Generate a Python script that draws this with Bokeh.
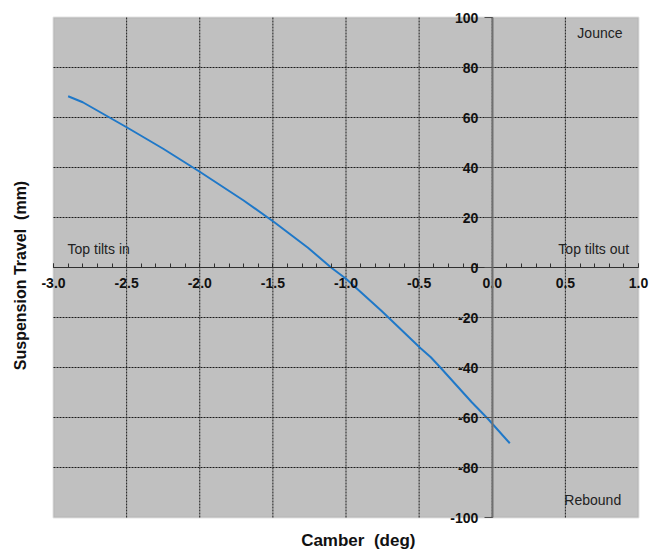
from bokeh.plotting import figure
from bokeh.models import Range1d, FixedTicker, LinearAxis, Label, BoxAnnotation
from bokeh.embed import file_html
from bokeh.resources import INLINE

# Data
camber = [-2.90, -2.80, -2.62, -2.50, -2.25, -2.00, -1.70, -1.49, -1.26, -1.10,
          -1.00, -0.76, -0.49, -0.42, -0.35, -0.14, -0.10, -0.03, 0.005, 0.12]
travel = [68.5, 66.1, 60.1, 56.1, 47.5, 38.3, 26.8, 18.1, 7.9, -0.1,
          -4.5, -17.2, -32.3, -35.9, -40.3, -53.9, -56.3, -60.5, -62.8, -70.3]

x_ticks = [-3.0, -2.5, -2.0, -1.5, -1.0, -0.5, 0.0, 0.5, 1.0]
x_tick_labels = ["-3.0", "-2.5", "-2.0", "-1.5", "-1.0", "-0.5", "0.0", "0.5", "1.0"]
y_ticks = [-100, -80, -60, -40, -20, 0, 20, 40, 60, 80, 100]
y_tick_labels = ["-100", "-80", "-60", "-40", "-20", "0", "20", "40", "60", "80", "100"]
x_minor = [round(-3.0 + 0.1 * i, 1) for i in range(41)]

FONT = "Liberation Sans"

X0, X1 = x_ticks[0], x_ticks[-1]
Y0, Y1 = y_ticks[0], y_ticks[-1]

# layout (pixels): plot box at left 53, right 638, top 17, bottom 517
W, H = 650, 550
L, R, T, B = 53, 638, 17, 517
sx = (R - L) / (X1 - X0)
sy = (B - T) / (Y1 - Y0)
x_range = Range1d(X0 - L / sx, X1 + (W - R) / sx)
y_range = Range1d(Y0 - (H - B) / sy, Y1 + T / sy)

p = figure(width=W, height=H, output_backend="svg", toolbar_location=None,
           x_range=x_range, y_range=y_range,
           x_axis_location=None, y_axis_location=None,
           min_border_left=0, min_border_right=0, min_border_top=0, min_border_bottom=0)
p.background_fill_color = "white"
p.border_fill_color = "white"
p.outline_line_color = None
p.grid.visible = False

# plot area background
p.add_layout(BoxAnnotation(left=X0, right=X1, bottom=Y0, top=Y1, fill_color="#C0C0C0",
                           fill_alpha=1, line_color="#A0A0A0", line_width=2,
                           level="underlay"))

# grid lines
gx = [t for t in x_ticks if t not in (X0, X1)]
gy = [t for t in y_ticks if t not in (Y0, Y1)]
p.segment(x0=gx, y0=[Y0] * len(gx), x1=gx, y1=[Y1] * len(gx),
          line_color="#1a1a1a", line_dash="2 1", line_width=1)
p.segment(x0=[X0] * len(gy), y0=gy, x1=[X1] * len(gy), y1=gy,
          line_color="#1a1a1a", line_dash="2 1", line_width=1)

# data line
p.line(camber, travel, line_color="#1F78C8", line_width=2)

# axes crossing at origin
xax = LinearAxis(fixed_location=0, bounds=(X0, X1),
                 ticker=FixedTicker(ticks=x_ticks, minor_ticks=x_minor),
                 major_label_overrides={t: s for t, s in zip(x_ticks, x_tick_labels)},
                 axis_line_color="#303030", axis_line_width=1.2,
                 major_tick_line_color="#303030", major_tick_in=4, major_tick_out=0,
                 minor_tick_line_color="#303030", minor_tick_in=4, minor_tick_out=0,
                 major_label_standoff=10,
                 major_label_text_font=FONT, major_label_text_font_style="bold",
                 major_label_text_font_size="14px", major_label_text_color="#111111")
yax = LinearAxis(fixed_location=0, bounds=(Y0, Y1),
                 ticker=FixedTicker(ticks=y_ticks, minor_ticks=[]),
                 major_label_overrides={t: s for t, s in zip(y_ticks, y_tick_labels)},
                 axis_line_color="#707070", axis_line_width=2,
                 major_tick_line_color="#505050", major_tick_in=0, major_tick_out=8,
                 minor_tick_line_color=None,
                 major_label_standoff=6,
                 major_label_text_font=FONT, major_label_text_font_style="bold",
                 major_label_text_font_size="14px", major_label_text_color="#111111")
p.add_layout(xax, "below")
p.add_layout(yax, "left")

# annotations
for txt, xx, yy in [("Jounce", 0.582, 94), ("Top tilts in", -2.904, 7.6),
                    ("Top tilts out", 0.452, 7.6), ("Rebound", 0.493, -92.8)]:
    p.add_layout(Label(x=xx, y=yy, text=txt, text_align="left", text_baseline="middle",
                       text_font=FONT, text_font_size="14px", text_color="#222222"))

# axis titles
p.add_layout(Label(x=-0.916, y=-109.0, text="Camber\u00a0 (deg)", text_align="center",
                   text_baseline="middle", text_font=FONT, text_font_style="bold",
                   text_font_size="17px", text_color="#111111"))
p.add_layout(Label(x=-3.224, y=-3.2, text="Suspension Travel\u00a0 (mm)", text_align="center",
                   text_baseline="middle", angle=1.5707963, text_font=FONT,
                   text_font_style="bold", text_font_size="16px", text_color="#111111"))

open("out.html", "w").write(file_html(p, INLINE))
